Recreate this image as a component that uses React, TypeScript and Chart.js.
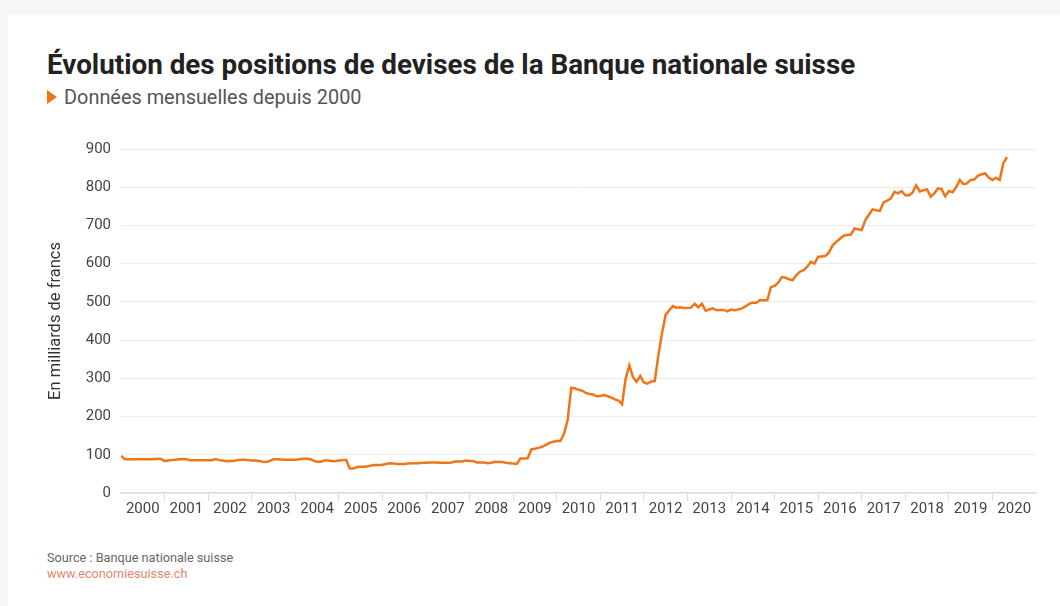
import React, { useEffect, useRef } from 'react';
import { Chart, registerables } from 'chart.js';

Chart.register(...registerables);

// ---- Data (monthly, Jan 2000 – May 2020), in billions of francs ----
const START_YEAR = 2000;
const YEARS = ['2000', '2001', '2002', '2003', '2004', '2005', '2006', '2007', '2008', '2009', '2010', '2011', '2012', '2013', '2014', '2015', '2016', '2017', '2018', '2019', '2020'];
const Y_TICKS = [0, 100, 200, 300, 400, 500, 600, 700, 800, 900];

const v2000 = [97, 89, 88, 88, 88.5, 89, 88, 88, 88.5, 89, 89.5, 89];
const v2001 = [84, 85, 86, 87, 88, 88.5, 88.5, 86, 86, 86, 86, 86];
const v2002 = [86, 86, 88.6, 86, 85, 83, 84, 84, 86, 87, 87, 86];
const v2003 = [85, 85, 84, 82, 81, 84, 88, 88, 87.5, 87, 87, 87];
const v2004 = [87, 88, 89.5, 89.5, 89, 85, 81.6, 82, 85, 85, 84, 83];
const v2005 = [85, 86, 87, 64, 64, 68, 69, 69, 70, 72, 73, 73];
const v2006 = [74, 76, 78, 77, 76, 76, 76, 77, 78, 78, 78, 79];
const v2007 = [79, 80, 80, 79.5, 79, 79, 79, 80, 82.5, 82.5, 82.5, 85];
const v2008 = [84, 84, 80, 80, 80, 78, 79, 81.5, 81, 81, 79, 78];
const v2009 = [77, 76, 90, 90, 91, 114, 116, 118, 121, 126, 131, 134];
const v2010 = [136, 136, 155, 190, 275, 274, 270, 268, 262, 259, 258, 253];
const v2011 = [254, 256, 253, 250, 245, 242, 232, 300, 334, 303, 291, 306];
const v2012 = [289, 286, 292, 293, 360, 418, 466, 478, 489, 485, 486, 484];
const v2013 = [484, 485, 495, 486, 495, 477, 480, 483, 478, 479, 479, 475];
const v2014 = [480, 478, 480, 483, 488, 495, 498, 498, 505, 504, 504, 539];
const v2015 = [542, 550, 565, 563, 559, 557, 570, 579, 583, 592, 605, 600];
const v2016 = [618, 619, 620, 630, 648, 657, 665, 673, 675, 676, 692, 690];
const v2017 = [688, 714, 728, 742, 740, 738, 760, 765, 770, 788, 784, 790];
const v2018 = [779, 779, 786, 805, 789, 792, 794, 775, 784, 797, 795, 776];
const v2019 = [790, 787, 800, 819, 808, 810, 819, 820, 830, 834, 836, 825];
const v2020 = [819, 825, 819, 863, 879];

const SERIES_BY_YEAR = [v2000, v2001, v2002, v2003, v2004, v2005, v2006, v2007, v2008, v2009, v2010, v2011, v2012, v2013, v2014, v2015, v2016, v2017, v2018, v2019, v2020];

const TITLE = 'Évolution des positions de devises de la Banque nationale suisse';
const SUBTITLE = 'Données mensuelles depuis 2000';
const Y_TITLE = 'En milliards de francs';
const SOURCE = 'Source : Banque nationale suisse';
const SITE = 'www.economiesuisse.ch';

const ORANGE = '#ee7619';
const FONT = 'Roboto, "Noto Sans", sans-serif';

export default function App() {
  const ref = useRef<HTMLCanvasElement>(null);

  useEffect(() => {
    document.body.style.margin = '0';
    document.body.style.background = '#f7f7f7';
    const values = SERIES_BY_YEAR.flat();
    const points = values.map((v, i) => ({ x: START_YEAR + i / 12, y: v }));
    const chart = new Chart(ref.current as HTMLCanvasElement, {
      type: 'line',
      data: {
        datasets: [
          {
            data: points,
            borderColor: ORANGE,
            borderWidth: 2.5,
            pointRadius: 0,
            tension: 0,
            fill: false,
            xAxisID: 'x',
            yAxisID: 'y',
          },
        ],
      },
      options: {
        animation: false,
        responsive: false,
        maintainAspectRatio: false,
        plugins: { legend: { display: false }, tooltip: { enabled: false } },
        layout: { padding: { top: 18, right: 14, bottom: 13, left: 0 } },
        scales: {
          x: { type: 'linear', display: false, min: START_YEAR, max: START_YEAR + YEARS.length },
          years: {
            type: 'category',
            labels: YEARS,
            position: 'bottom',
            offset: true,
            grid: {
              offset: true,
              drawOnChartArea: false,
              drawTicks: true,
              tickLength: 8,
              lineWidth: 1,
              color: (ctx: any) => (ctx.type !== 'tick' || ctx.index === 0 ? 'rgba(0,0,0,0)' : '#dddddd'),
            },
            border: { display: true, color: '#dddddd', width: 1.5 },
            ticks: {
              autoSkip: false,
              maxRotation: 0,
              minRotation: 0,
              padding: -1,
              color: '#444444',
              font: { family: FONT, size: 15 },
            },
          },
          y: {
            min: 0,
            max: 900,
            afterBuildTicks: (scale: any) => {
              scale.ticks = Y_TICKS.map((v) => ({ value: v }));
            },
            afterFit: (scale: any) => {
              scale.width = 91;
            },
            ticks: { padding: 10, color: '#444444', font: { family: FONT, size: 15 } },
            grid: { color: '#ececec', drawTicks: false, lineWidth: 1 },
            border: { display: false },
            title: {
              display: true,
              text: Y_TITLE,
              color: '#333333',
              font: { family: FONT, size: 16.5 },
              padding: { top: 16, bottom: 0 },
            },
          },
        },
      },
    });
    return () => chart.destroy();
  }, []);

  return (
    <div style={{ position: 'relative', width: 1060, height: 606, overflow: 'hidden' }}>
      <div style={{ position: 'absolute', left: 8, top: 15, width: 1052, height: 600, background: '#ffffff' }} />
      <div
        style={{
          position: 'absolute',
          left: 47,
          top: 50,
          fontFamily: FONT,
          fontWeight: 700,
          fontSize: 27.8,
          lineHeight: '30px',
          color: '#222222',
          whiteSpace: 'nowrap',
        }}
      >
        {TITLE}
      </div>
      <div
        style={{
          position: 'absolute',
          left: 47,
          top: 90,
          width: 0,
          height: 0,
          borderLeft: '10px solid ' + ORANGE,
          borderTop: '7px solid transparent',
          borderBottom: '7px solid transparent',
        }}
      />
      <div
        style={{
          position: 'absolute',
          left: 64,
          top: 88,
          fontFamily: FONT,
          fontSize: 19.9,
          lineHeight: '20px',
          color: '#555555',
          whiteSpace: 'nowrap',
        }}
      >
        {SUBTITLE}
      </div>
      <canvas
        ref={ref}
        width={1020}
        height={400}
        style={{ position: 'absolute', left: 30, top: 130, width: 1020, height: 400 }}
      />
      <div
        style={{
          position: 'absolute',
          left: 47,
          top: 550,
          fontFamily: FONT,
          fontSize: 12.7,
          lineHeight: '16px',
          color: '#666666',
          whiteSpace: 'nowrap',
        }}
      >
        <div>{SOURCE}</div>
        <div style={{ color: '#e5866d' }}>{SITE}</div>
      </div>
    </div>
  );
}
